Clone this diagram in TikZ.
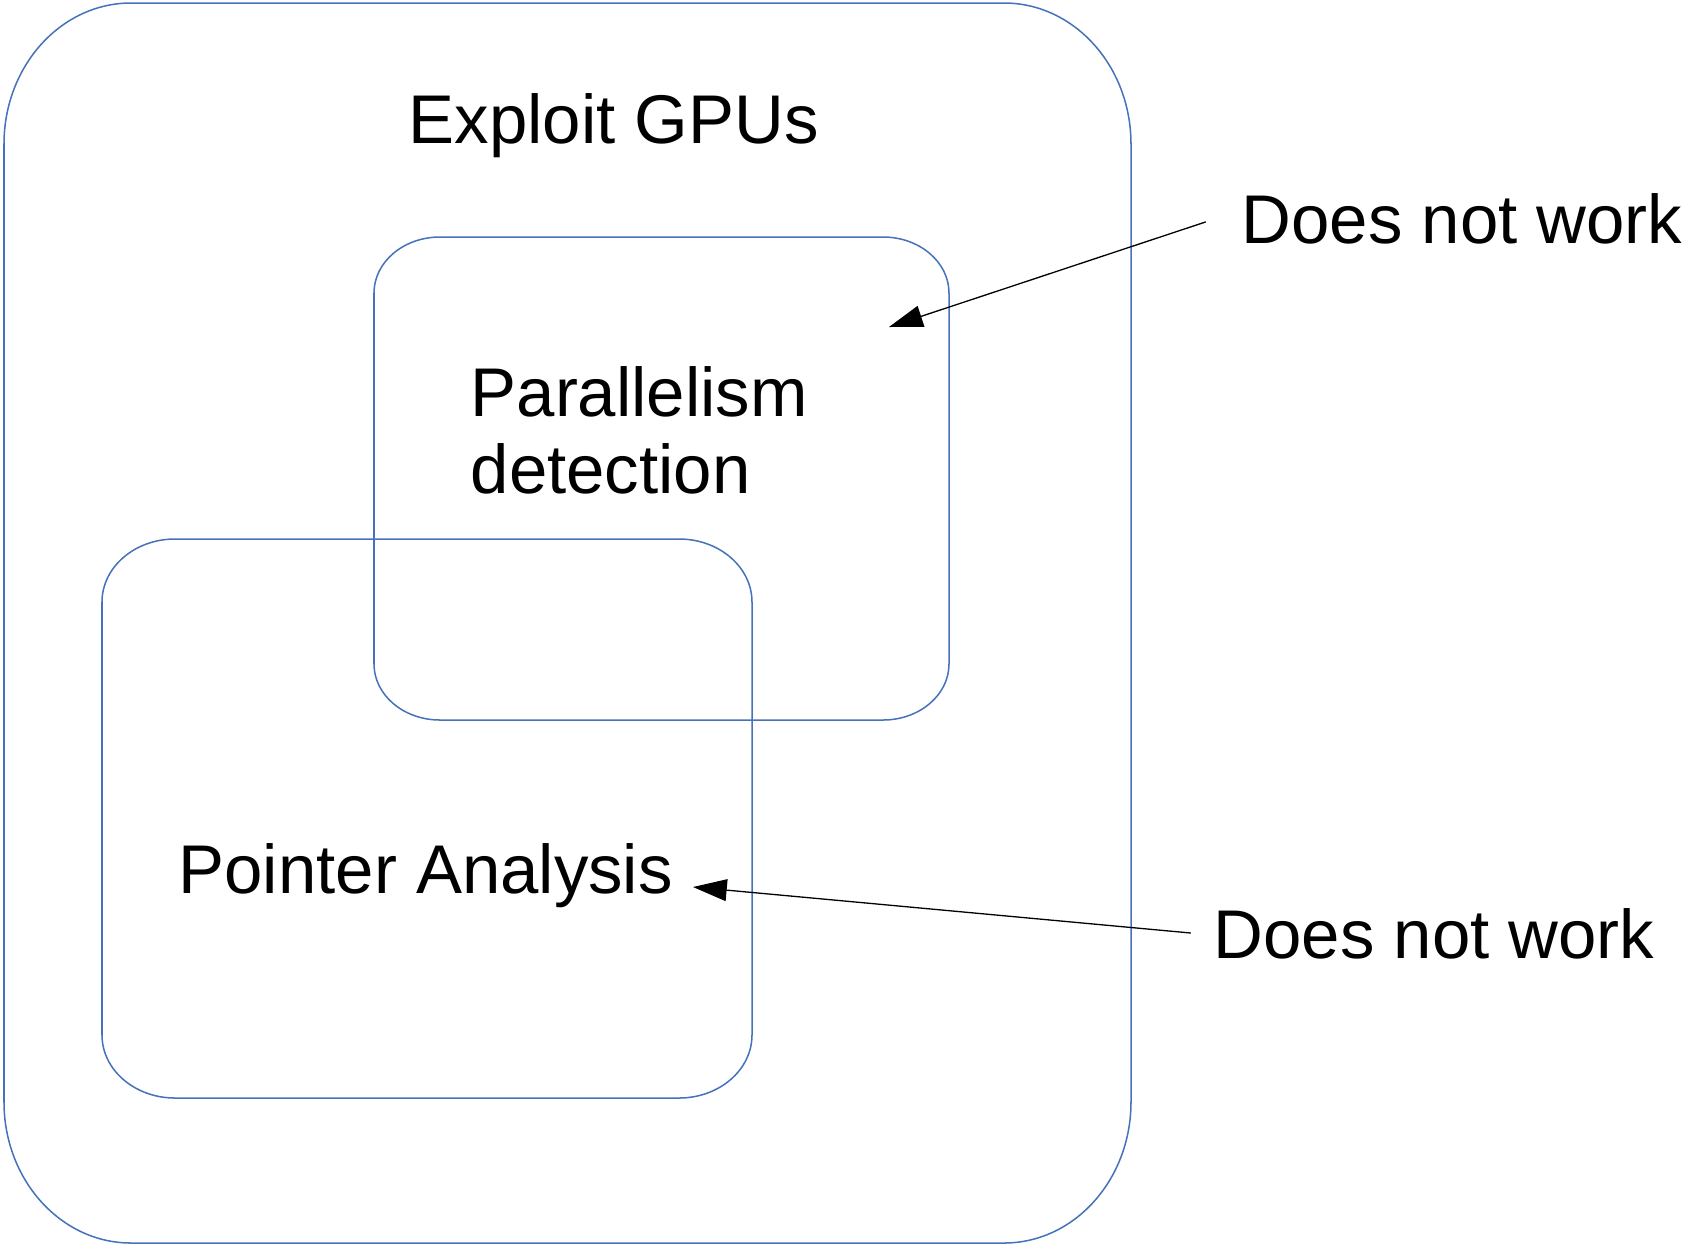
\documentclass[tikz,border=0pt]{standalone}
\usepackage{fontspec}
\setmainfont{Liberation Sans}
\usetikzlibrary{arrows.meta}
\definecolor{boxblue}{RGB}{69,114,186}
% rounded rectangle with elliptical corners: x1 y1 x2 y2 rx ry (y grows downwards)
\newcommand\ovalrect[6]{%
  \pgfmathsetmacro\rbA{#1+#5}%
  \pgfmathsetmacro\rbB{#3-#5}%
  \pgfmathsetmacro\rbC{#2+#6}%
  \pgfmathsetmacro\rbD{#4-#6}%
  \pgfmathsetmacro\rbE{#1+0.4477*#5}%
  \pgfmathsetmacro\rbF{#3-0.4477*#5}%
  \pgfmathsetmacro\rbG{#2+0.4477*#6}%
  \pgfmathsetmacro\rbH{#4-0.4477*#6}%
  \draw[boxline] (\rbA,#2) -- (\rbB,#2) .. controls (\rbF,#2) and (#3,\rbG) .. (#3,\rbC)
    -- (#3,\rbD) .. controls (#3,\rbH) and (\rbF,#4) .. (\rbB,#4)
    -- (\rbA,#4) .. controls (\rbE,#4) and (#1,\rbH) .. (#1,\rbD)
    -- (#1,\rbC) .. controls (#1,\rbG) and (\rbE,#2) .. (\rbA,#2) -- cycle;%
}
\begin{document}
\begin{tikzpicture}[x=0.01cm,y=-0.01cm,
  boxline/.style={draw=boxblue,line width=0.43pt},
  label/.style={font=\fontsize{19.6}{21.9}\selectfont,inner sep=0pt,anchor=base west,align=left},
  pointer/.style={draw=black,line width=0.37pt,-{Triangle[length=9.6pt,width=6.2pt]}}]
\useasboundingbox (0,0) rectangle (1687,1244);

% nested regions
\ovalrect{4}{3}{1131}{1243}{127}{141}
\ovalrect{374}{237}{949}{720}{66}{56}
\ovalrect{102}{539}{752}{1098}{73}{63}

% region titles
\node[label] (gpu) at (408,143) {Exploit GPUs};
\node[label] (par) at (470,493) {Parallelism\\detection};
\node[label] (pta) at (178,893) {Pointer Analysis};

% remarks
\node[label] (dnw1) at (1241,243) {Does not work};
\node[label] (dnw2) at (1213,958) {Does not work};

\coordinate (tip1) at (889,327);
\coordinate (tip2) at (693,887);

\draw[pointer] ([xshift=-10pt,yshift=-1pt]dnw1.west) -- (tip1);
\draw[pointer] ([xshift=-6.3pt,yshift=0.1pt]dnw2.west) -- (tip2);
\end{tikzpicture}
\end{document}
